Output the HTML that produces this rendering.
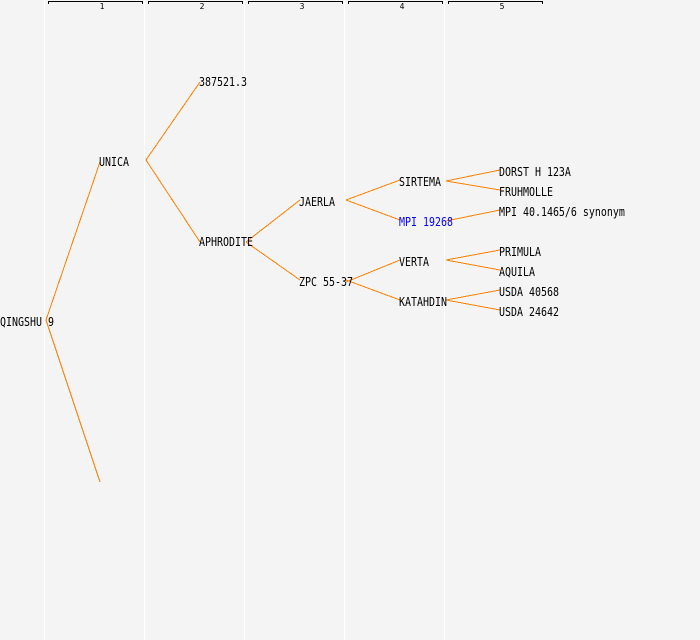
<!DOCTYPE html>
<html>
<head>
<meta charset="utf-8">
<style>
html,body{margin:0;padding:0;background:#f4f4f4;}
svg{display:block;}
text{font-family:"DejaVu Sans Mono","Liberation Mono",monospace;font-size:10px;fill:#000;-webkit-font-smoothing:none;text-rendering:optimizeSpeed;}
.h{font-size:8px;text-anchor:middle;}
.c line{stroke:#ff8000;stroke-width:1;}
.b path{stroke:#000;stroke-width:1;fill:none;}
</style>
</head>
<body>
<svg width="700" height="640" viewBox="0 0 700 640" xmlns="http://www.w3.org/2000/svg">
<rect width="700" height="640" fill="#f4f4f4"/>
<g fill="#ffffff" shape-rendering="crispEdges">
<rect x="44" y="0" width="1" height="640"/>
<rect x="144" y="0" width="1" height="640"/>
<rect x="244" y="0" width="1" height="640"/>
<rect x="344" y="0" width="1" height="640"/>
<rect x="444" y="0" width="1" height="640"/>
</g>
<g class="b" shape-rendering="crispEdges">
<path d="M48.5 4V1.5H142.5V4"/>
<path d="M148.5 4V1.5H242.5V4"/>
<path d="M248.5 4V1.5H342.5V4"/>
<path d="M348.5 4V1.5H442.5V4"/>
<path d="M448.5 4V1.5H542.5V4"/>
</g>
<text class="h" x="102" y="9">1</text>
<text class="h" x="202" y="9">2</text>
<text class="h" x="302" y="9">3</text>
<text class="h" x="402" y="9">4</text>
<text class="h" x="502" y="9">5</text>
<g class="c" shape-rendering="crispEdges">
<line x1="46" y1="320" x2="100" y2="162"/>
<line x1="46" y1="320" x2="100" y2="482"/>
<line x1="146" y1="160" x2="200" y2="82"/>
<line x1="146" y1="160" x2="200" y2="242"/>
<line x1="246" y1="242" x2="300" y2="200"/>
<line x1="246" y1="242" x2="300" y2="280"/>
<line x1="346" y1="200" x2="400" y2="180"/>
<line x1="346" y1="200" x2="400" y2="220"/>
<line x1="346" y1="282" x2="400" y2="260"/>
<line x1="346" y1="280" x2="400" y2="300"/>
<line x1="446" y1="181" x2="500" y2="170"/>
<line x1="446" y1="181" x2="500" y2="190"/>
<line x1="446" y1="221" x2="500" y2="210"/>
<line x1="446" y1="260" x2="500" y2="250"/>
<line x1="446" y1="260" x2="500" y2="270"/>
<line x1="446" y1="300" x2="500" y2="290"/>
<line x1="446" y1="300" x2="500" y2="310"/>
</g>
<text transform="translate(0,326) scale(.997,1.2)">QINGSHU 9</text>
<text transform="translate(99,166) scale(.997,1.2)">UNICA</text>
<text transform="translate(199,86) scale(.997,1.2)">387521.3</text>
<text transform="translate(199,246) scale(.997,1.2)">APHRODITE</text>
<text transform="translate(299,206) scale(.997,1.2)">JAERLA</text>
<text transform="translate(299,286) scale(.997,1.2)">ZPC 55-37</text>
<text transform="translate(399,186) scale(.997,1.2)">SIRTEMA</text>
<text transform="translate(399,226) scale(.997,1.2)" style="fill:#0000ff">MPI 19268</text>
<text transform="translate(399,266) scale(.997,1.2)">VERTA</text>
<text transform="translate(399,306) scale(.997,1.2)">KATAHDIN</text>
<text transform="translate(499,176) scale(.997,1.2)">DORST H 123A</text>
<text transform="translate(499,196) scale(.997,1.2)">FRUHMOLLE</text>
<text transform="translate(499,216) scale(.997,1.2)">MPI 40.1465/6 synonym</text>
<text transform="translate(499,256) scale(.997,1.2)">PRIMULA</text>
<text transform="translate(499,276) scale(.997,1.2)">AQUILA</text>
<text transform="translate(499,296) scale(.997,1.2)">USDA 40568</text>
<text transform="translate(499,316) scale(.997,1.2)">USDA 24642</text>
</svg>
</body>
</html>
